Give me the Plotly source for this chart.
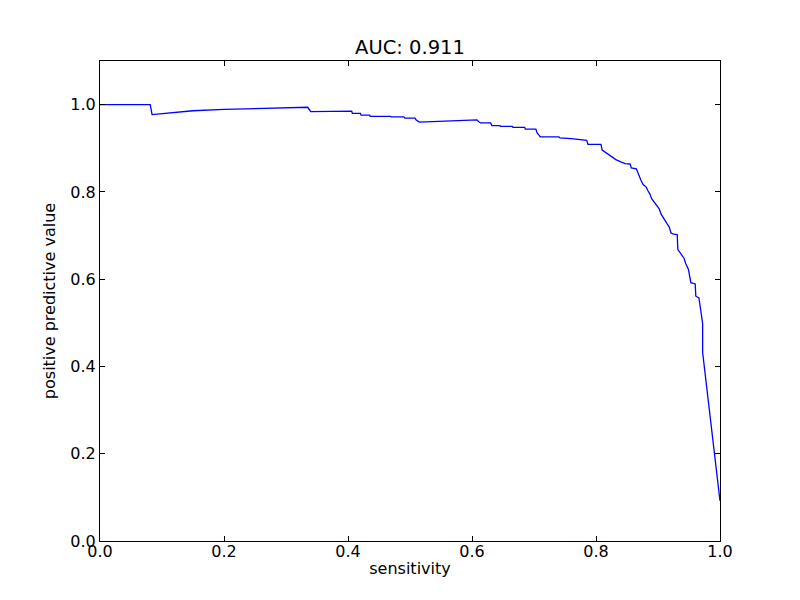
import plotly.graph_objects as go

sensitivity = [0.0, 0.081, 0.084, 0.12, 0.15, 0.2, 0.25, 0.3, 0.335, 0.337, 0.34,
               0.406, 0.407, 0.42, 0.421, 0.435, 0.436, 0.468, 0.47, 0.49, 0.492,
               0.508, 0.51, 0.515, 0.56, 0.608, 0.61, 0.614, 0.63, 0.632, 0.645,
               0.646, 0.665, 0.666, 0.685, 0.686, 0.703, 0.705, 0.708, 0.71, 0.74,
               0.742, 0.76, 0.78, 0.785, 0.787, 0.808, 0.81, 0.815, 0.82, 0.825,
               0.832, 0.84, 0.847, 0.855, 0.857, 0.865, 0.867, 0.87, 0.873, 0.876,
               0.881, 0.884, 0.887, 0.89, 0.894, 0.898, 0.902, 0.905, 0.908, 0.911,
               0.915, 0.918, 0.921, 0.925, 0.931, 0.932, 0.937, 0.942, 0.945, 0.949,
               0.953, 0.96, 0.961, 0.966, 0.968, 0.971, 0.972, 0.972, 1.0]
ppv = [1.0, 1.0, 0.977, 0.982, 0.986, 0.989, 0.991, 0.993, 0.994, 0.990, 0.984,
       0.985, 0.980, 0.980, 0.976, 0.976, 0.973, 0.973, 0.972, 0.972, 0.969,
       0.969, 0.965, 0.960, 0.962, 0.965, 0.962, 0.958, 0.958, 0.952, 0.952,
       0.950, 0.950, 0.948, 0.948, 0.944, 0.944, 0.935, 0.930, 0.926, 0.926,
       0.924, 0.922, 0.920, 0.918, 0.909, 0.909, 0.896, 0.891, 0.888, 0.882,
       0.874, 0.869, 0.865, 0.864, 0.855, 0.853, 0.845, 0.836, 0.825, 0.817,
       0.811, 0.802, 0.795, 0.784, 0.777, 0.768, 0.761, 0.749, 0.742, 0.733,
       0.726, 0.720, 0.706, 0.703, 0.702, 0.668, 0.657, 0.648, 0.635, 0.623,
       0.592, 0.589, 0.561, 0.557, 0.538, 0.500, 0.498, 0.432, 0.092]

x_ticks = [0.0, 0.2, 0.4, 0.6, 0.8, 1.0]
y_ticks = [0.0, 0.2, 0.4, 0.6, 0.8, 1.0]
title_text = "AUC: 0.911"

font_family = "DejaVu Sans"

fig = go.Figure()
fig.add_trace(go.Scatter(x=sensitivity, y=ppv, mode="lines",
                         line=dict(color="#0000ff", width=1.3),
                         showlegend=False, hoverinfo="skip"))

axis_common = dict(showline=True, linecolor="black", linewidth=1, mirror="ticks",
                   ticks="inside", ticklen=5, tickwidth=1, tickcolor="black",
                   showgrid=False, zeroline=False,
                   tickfont=dict(family=font_family, size=16, color="black"))

fig.update_layout(
    width=800, height=600,
    margin=dict(l=92, r=88, t=53, b=67),
    paper_bgcolor="white", plot_bgcolor="white",
    title=dict(text=title_text, x=0.5025, xanchor="center", y=0.935, yanchor="middle",
               font=dict(family=font_family, size=19.5, color="black")),
    xaxis=dict(range=[0, 1], tickvals=x_ticks, ticktext=[f"{v:.1f}" for v in x_ticks],
               ticklabelstandoff=-4,
               title=dict(text="sensitivity", standoff=2,
                          font=dict(family=font_family, size=16, color="black")),
               **axis_common),
    yaxis=dict(range=[0, 1.1], tickvals=y_ticks, ticktext=[f"{v:.1f}" for v in y_ticks],
               title=dict(text="positive predictive value", standoff=10,
                          font=dict(family=font_family, size=16, color="black")),
               **axis_common),
)

fig.write_html("out.html")
